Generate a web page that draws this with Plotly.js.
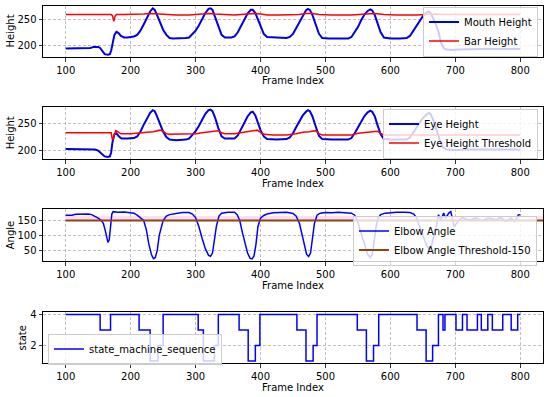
<!DOCTYPE html>
<html>
<head>
<meta charset="utf-8">
<script src="https://cdn.plot.ly/plotly-3.0.1.min.js"></script>
<style>html,body{margin:0;padding:0;background:#fff;}#chart{width:550px;height:397px;}</style>
</head>
<body>
<div id="chart"></div>
<script>
// ---- Data ----
const frameTicks = [100, 200, 300, 400, 500, 600, 700, 800];
const xTitle = 'Frame Index';
const yTitles = ['Height', 'Height', 'Angle', 'state'];

const mouthX = [100,110,120,130,138,143,150,153,157,160,165,168,170,172,175,178,181,185,190,195,200,205,210,215,220,225,230,234,237,240,245,250,255,260,265,275,285,290,295,300,305,310,315,320,323,326,330,335,340,345,355,360,365,370,375,380,385,388,392,395,400,405,410,420,430,440,445,450,455,460,465,470,473,476,480,485,490,495,505,520,535,540,545,550,555,560,565,569,572,576,580,585,590,600,615,625,630,635,640,645,650,655,659,662,666,670,672,674,678,682,686,695,705,720,740,760,780,800];
const mouthY = [194,194,194,194,195,197,197,195,188,183,182,183,190,205,220,226,224,218,215,215,216,217,220,228,240,253,265,271,268,260,245,230,220,214,213,213,214,215,222,228,238,250,262,270,271,268,255,235,220,215,215,217,225,237,250,261,268,268,262,252,235,222,216,215,214,214,216,222,233,245,258,267,270,268,258,240,222,214,213,213,213,216,225,235,248,259,266,269,267,258,243,225,215,213,213,214,218,228,238,248,256,262,265,262,252,240,233,226,205,195,192,191,192,193,193,193,193,193];

const barX = [100,170,172,174,176,178,190,210,220,230,240,250,255,270,290,300,310,320,330,340,360,380,390,400,410,430,450,460,470,480,490,510,540,555,565,575,590,610,640,650,660,670,680,700,800];
const barY = [259,259,257,246,256,259,259,259,260,261,260,260,259,258,258,259,260,261,260,259,258,260,261,260,258,258,258,259,261,261,259,258,258,259,261,261,259,258,258,259,260,260,259,259,259];

const eyeX = [100,140,145,150,155,160,165,168,170,172,175,178,182,186,195,205,210,215,220,225,230,234,237,240,245,250,255,260,270,285,290,295,300,305,310,315,320,323,326,330,335,340,345,360,365,370,375,380,385,388,392,395,400,405,410,425,440,445,450,455,460,465,470,473,476,480,485,490,495,510,535,540,545,550,555,560,565,569,572,576,580,585,590,600,625,630,635,640,645,650,655,659,662,666,670,674,678,682,686,700,720,750,780,800];
const eyeY = [202,202,201,199,193,188,187,188,196,215,230,232,226,222,222,223,226,235,248,260,271,276,274,266,250,235,225,220,219,220,222,229,236,246,258,269,276,277,274,262,242,226,222,222,228,240,253,264,272,273,266,255,238,226,221,220,221,224,232,244,256,266,273,276,274,264,245,227,221,220,220,223,232,243,255,265,272,275,273,264,248,230,221,220,220,224,233,243,253,261,267,271,268,257,242,226,212,204,201,200,201,201,201,201];

const eyeThrX = [100,170,172,174,177,180,185,200,215,225,235,245,250,255,260,280,300,310,320,330,335,340,345,360,370,380,390,395,400,405,420,440,455,465,475,485,490,495,520,540,550,560,570,580,585,590,620,650,700,800];
const eyeThrY = [233,233,219,228,237,235,231,231,232,234,235,238,236,231,230,230,231,233,235,237,237,233,231,231,233,234,237,238,234,230,229,229,231,234,235,237,231,229,229,229,232,233,234,236,232,229,229,229,229,229];

const elbowX = [100,110,115,125,135,140,145,150,155,158,161,163,165,167,169,171,173,180,190,200,205,210,215,220,224,228,232,235,238,241,244,247,250,255,260,270,280,290,295,300,305,310,315,320,323,326,329,332,336,340,350,360,364,368,372,376,380,384,387,390,393,396,400,405,410,420,430,440,450,455,460,464,468,471,474,477,480,483,487,492,500,510,520,530,540,545,549,553,557,561,565,569,572,575,578,581,585,592,600,610,620,630,636,640,645,650,655,660,664,667,670,674,678,682,685,690,693,698,702,706,711,716,722,727,732,737,742,747,752,757,763,767,770,774,778,782,786,791,795,797,800];
const elbowY = [168,168,171,172,172,170,165,158,150,140,115,90,76,85,130,172,180,178,179,178,175,168,160,150,120,70,35,21,25,50,100,130,150,165,170,174,177,177,172,160,130,90,55,32,29,40,80,130,165,175,178,178,170,150,110,70,40,22,20,30,70,130,158,167,172,176,177,178,174,165,140,100,60,35,28,40,90,140,168,175,177,176,178,177,175,168,150,120,90,60,35,25,35,80,130,158,170,175,177,178,178,177,172,160,130,100,70,50,70,100,118,169,152,175,158,175,180,130,140,152,160,155,152,155,158,152,149,155,158,155,152,157,160,153,147,152,158,147,158,169,170];

const elbowThrX = [100, 835];
const elbowThrY = [150, 150];
const elbowBand = [150, 165];

const stateX = [100,153,169,213,230,242,250,304,312,329,335,367,381,392,399,456,470,481,487,549,563,574,582,641,655,665,674,681,684,701,711,718,734,740,750,757,773,786,796,800];
const stateY = [4,3,4,3,1,2,4,3,1,2,4,3,1,2,4,3,1,2,4,3,1,2,4,3,1,2,4,3,4,3,4,3,4,3,4,3,4,3,4,4];

// ---- Layout helpers ----
const W = 550, H = 397;
const FONT = 'DejaVu Sans, Liberation Sans, sans-serif';
const px2x = p => p / W;
const px2y = p => 1 - p / H;
const xDom = [px2x(43), px2x(543)];
const panels = [[5.7, 57.3], [107.3, 159.3], [209.3, 261.3], [312.3, 363.3]];
const yTitleX = [10, 10, 10, 22.7];

function xax(anchor) {
  return {
    domain: xDom, anchor: anchor, range: [65, 835],
    tickmode: 'array', tickvals: frameTicks, ticktext: frameTicks.map(String),
    showline: true, mirror: true, linecolor: '#000', linewidth: 1,
    ticks: 'outside', ticklen: 3.5, tickwidth: 0.8, tickcolor: '#000',
    showgrid: true, gridcolor: '#b0b0b0', gridwidth: 0.8, griddash: '3px,2px',
    zeroline: false, tickfont: {family: FONT, size: 10, color: '#000'}
  };
}
function yax(anchor, i, range, ticks) {
  return {
    domain: [px2y(panels[i][1]), px2y(panels[i][0])], anchor: anchor, range: range,
    tickmode: 'array', tickvals: ticks, ticktext: ticks.map(String),
    showline: true, mirror: true, linecolor: '#000', linewidth: 1,
    ticks: 'outside', ticklen: 3.5, tickwidth: 0.8, tickcolor: '#000',
    showgrid: true, gridcolor: '#b0b0b0', gridwidth: 0.8, griddash: '3px,2px',
    zeroline: false, tickfont: {family: FONT, size: 10, color: '#000'}
  };
}
function leg(x, y, xanchor, yanchor) {
  return {
    x: x, y: y, xanchor: xanchor, yanchor: yanchor, xref: 'paper', yref: 'paper',
    bgcolor: 'rgba(255,255,255,0.8)', bordercolor: '#cccccc', borderwidth: 1,
    font: {family: FONT, size: 10, color: '#000'}, itemwidth: 30, tracegroupgap: 0
  };
}

const annotations = [];
panels.forEach((p, i) => {
  annotations.push({text: xTitle, xref: 'paper', yref: 'paper', x: px2x(293), y: px2y(p[1] + 23.7),
    xanchor: 'center', yanchor: 'middle', showarrow: false, font: {family: FONT, size: 10, color: '#000'}});
  annotations.push({text: yTitles[i], xref: 'paper', yref: 'paper', x: px2x(yTitleX[i]), y: px2y((p[0] + p[1]) / 2),
    xanchor: 'center', yanchor: 'middle', textangle: -90, showarrow: false, font: {family: FONT, size: 10, color: '#000'}});
});

const traces = [
  {x: mouthX, y: mouthY, name: 'Mouth Height', mode: 'lines', xaxis: 'x', yaxis: 'y', line: {color: '#0000e0', width: 2}, legend: 'legend'},
  {x: barX, y: barY, name: 'Bar Height', mode: 'lines', xaxis: 'x', yaxis: 'y', line: {color: '#ff0000', width: 1.5}, legend: 'legend'},
  {x: eyeX, y: eyeY, name: 'Eye Height', mode: 'lines', xaxis: 'x2', yaxis: 'y2', line: {color: '#0000e0', width: 2}, legend: 'legend2'},
  {x: eyeThrX, y: eyeThrY, name: 'Eye Height Threshold', mode: 'lines', xaxis: 'x2', yaxis: 'y2', line: {color: '#ff0000', width: 1.5}, legend: 'legend2'},
  {x: elbowX, y: elbowY, name: 'Elbow Angle', mode: 'lines', xaxis: 'x3', yaxis: 'y3', line: {color: '#0000ff', width: 1.5}, legend: 'legend3'},
  {x: elbowThrX, y: elbowThrY, name: 'Elbow Angle Threshold-150', mode: 'lines', xaxis: 'x3', yaxis: 'y3', line: {color: '#8b4513', width: 2}, legend: 'legend3'},
  {x: stateX, y: stateY, name: 'state_machine_sequence', mode: 'lines', xaxis: 'x4', yaxis: 'y4', line: {color: '#0000ff', width: 1.5, shape: 'hv'}, legend: 'legend4'}
];

const layout = {
  width: W, height: H, margin: {l: 0, r: 0, t: 0, b: 0},
  paper_bgcolor: '#fff', plot_bgcolor: '#fff', showlegend: true,
  font: {family: FONT, size: 10, color: '#000'},
  xaxis: xax('y'), yaxis: yax('x', 0, [177, 276], [200, 250]),
  xaxis2: xax('y2'), yaxis2: yax('x2', 1, [182.5, 281.5], [200, 250]),
  xaxis3: xax('y3'), yaxis3: yax('x3', 2, [12, 188], [50, 100, 150]),
  xaxis4: xax('y4'), yaxis4: yax('x4', 3, [0.85, 4.15], [2, 4]),
  legend: leg(px2x(538), px2y(31.5), 'right', 'middle'),
  legend2: leg(px2x(538), px2y(133.5), 'right', 'middle'),
  legend3: leg(px2x(537), px2y(240.5), 'right', 'middle'),
  legend4: leg(px2x(48), px2y(349), 'left', 'middle'),
  annotations: annotations,
  shapes: [{type: 'rect', xref: 'x3', yref: 'y3', x0: elbowThrX[0], x1: elbowThrX[1], y0: elbowBand[0], y1: elbowBand[1],
            fillcolor: 'rgba(255,182,230,0.45)', line: {width: 0}, layer: 'between'}]
};

Plotly.newPlot('chart', traces, layout, {displayModeBar: false, staticPlot: true});
</script>
</body>
</html>
